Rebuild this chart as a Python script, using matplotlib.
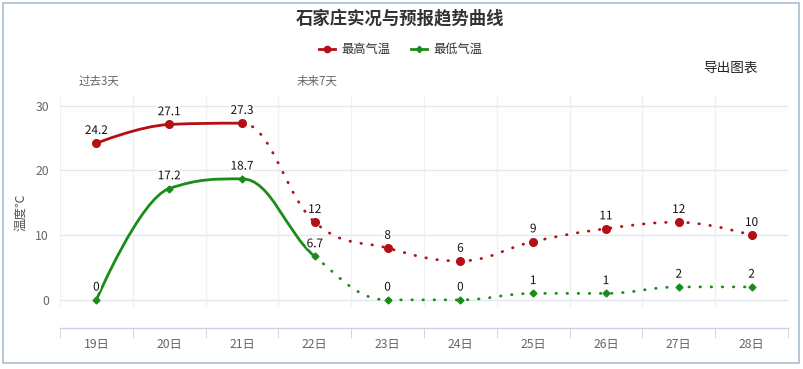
import matplotlib
matplotlib.use("Agg")
import matplotlib.pyplot as plt
from matplotlib.path import Path
from matplotlib.patches import PathPatch, Rectangle
import matplotlib.patheffects as pe
import numpy as np

plt.rcParams['font.family'] = ['Noto Sans CJK SC', 'DejaVu Sans']

days = ["19日", "20日", "21日", "22日", "23日", "24日", "25日", "26日", "27日", "28日"]
high_temp = [24.2, 27.1, 27.3, 12, 8, 6, 9, 11, 12, 10]
low_temp = [0, 17.2, 18.7, 6.7, 0, 0, 1, 1, 2, 2]
high_solid_until = 2   # last index drawn solid
low_solid_until = 3
yticks = [0, 10, 20, 30]

RED = "#b40f14"
GREEN = "#1a8c1a"


def spline_ctrl(xs, ys, smoothing=1.5):
    n = len(xs)
    left = [None] * n
    right = [None] * n
    denom = smoothing + 1
    for i in range(1, n - 1):
        px, py = xs[i], ys[i]
        lx, ly = xs[i - 1], ys[i - 1]
        nx, ny = xs[i + 1], ys[i + 1]
        lcx = (smoothing * px + lx) / denom
        lcy = (smoothing * py + ly) / denom
        rcx = (smoothing * px + nx) / denom
        rcy = (smoothing * py + ny) / denom
        if rcx != lcx:
            corr = ((rcy - lcy) * (rcx - px)) / (rcx - lcx) + py - rcy
            lcy += corr
            rcy += corr
        if lcy > ly and lcy > py:
            lcy = max(ly, py); rcy = 2 * py - lcy
        elif lcy < ly and lcy < py:
            lcy = min(ly, py); rcy = 2 * py - lcy
        if rcy > ny and rcy > py:
            rcy = max(ny, py); lcy = 2 * py - rcy
        elif rcy < ny and rcy < py:
            rcy = min(ny, py); lcy = 2 * py - rcy
        left[i] = (lcx, lcy)
        right[i] = (rcx, rcy)
    return left, right


def seg_path(xs, ys, i0, i1):
    left, right = spline_ctrl(xs, ys)
    verts = [(xs[i0], ys[i0])]
    codes = [Path.MOVETO]
    for i in range(i0 + 1, i1 + 1):
        c1 = right[i - 1] if right[i - 1] is not None else (xs[i - 1], ys[i - 1])
        c2 = left[i] if left[i] is not None else (xs[i], ys[i])
        verts += [c1, c2, (xs[i], ys[i])]
        codes += [Path.CURVE4] * 3
    return Path(verts, codes)


fig = plt.figure(figsize=(8.04, 3.69), dpi=100)
W, H = 804, 369
L, R, T, B = 60, 788, 96, 328
ax = fig.add_axes([L / W, 1 - B / H, (R - L) / W, (B - T) / H])
ymin, ymax = -4.35, 31.5
ax.set_xlim(-0.5, len(days) - 0.5)
ax.set_ylim(ymin, ymax)

# outer border
fig.patches.append(Rectangle((3 / W, 6 / H), 796 / W, 360 / H, transform=fig.transFigure,
                             fill=False, edgecolor="#a9bccf", linewidth=1.2))

for s in ["top", "right", "left"]:
    ax.spines[s].set_visible(False)
ax.spines["bottom"].set_color("#c8d2e0")
ax.spines["bottom"].set_linewidth(1)

for v in yticks:
    ax.axhline(v, color="#e2e6ee", linewidth=1, zorder=0)
edges = np.arange(len(days) + 1) - 0.5
ax.vlines(edges, -0.9, ymax, color="#eef0f4", linewidth=1, zorder=0)

ax.set_yticks(yticks)
ax.tick_params(axis="y", length=0, labelsize=8.8, labelcolor="#666666", pad=8)
ax.set_xticks(range(len(days)))
ax.set_xticklabels(days)
ax.set_xticks(edges, minor=True)
ax.tick_params(axis="x", which="major", length=0, labelsize=8.8, labelcolor="#666666", pad=7)
ax.tick_params(axis="x", which="minor", length=7.5, color="#c8d2e0", direction="out")
ax.set_ylabel("温度℃", fontsize=9, color="#555555", labelpad=6)

xs = list(range(len(days)))
dot = (0, (0.2, 3.8))
for vals, color, split, marker, ms in [(high_temp, RED, high_solid_until, "o", 5.5),
                                        (low_temp, GREEN, low_solid_until, "D", 3.5)]:
    p1 = seg_path(xs, vals, 0, split)
    ax.add_patch(PathPatch(p1, fill=False, edgecolor=color, linewidth=2, zorder=3,
                           capstyle="round", joinstyle="round"))
    p2 = seg_path(xs, vals, split, len(xs) - 1)
    ax.add_patch(PathPatch(p2, fill=False, edgecolor=color, linewidth=2, zorder=3,
                           linestyle=dot, capstyle="round"))
    ax.plot(xs, vals, linestyle="none", marker=marker, markersize=ms, color=color, zorder=4)
    for x, v in zip(xs, vals):
        ax.annotate(f"{v:g}", (x, v), xytext=(0, 4.5), textcoords="offset points",
                    ha="center", va="bottom", fontsize=8.5, color="#111111", zorder=5,
                    path_effects=[pe.withStroke(linewidth=2.5, foreground="white")])

# title and annotations
fig.text(400 / W, 1 - 18 / H, "石家庄实况与预报趋势曲线", ha="center", va="center",
         fontsize=12.5, fontweight="bold", color="#333333")

# legend
ly = 1 - 49 / H
for mx, color, marker, ms, label in [(327, RED, "o", 4.5, "最高气温"),
                                      (419, GREEN, "D", 3.2, "最低气温")]:
    fig.add_artist(plt.Line2D([(mx - 8) / W, (mx + 8) / W], [ly, ly], color=color,
                              linewidth=2, transform=fig.transFigure))
    fig.add_artist(plt.Line2D([mx / W], [ly], marker=marker, markersize=ms, color=color,
                              transform=fig.transFigure))
    fig.text((mx + 14) / W, ly, label, ha="left", va="center", fontsize=8.8, color="#333333")

fig.text(79 / W, 1 - 81 / H, "过去3天", ha="left", va="center", fontsize=8.3, color="#666666")
fig.text(297 / W, 1 - 81 / H, "未来7天", ha="left", va="center", fontsize=8.3, color="#666666")
fig.text(703 / W, 1 - 68 / H, "导出图表", ha="left", va="center", fontsize=9.8, color="#222222")

fig.savefig("out.png", dpi=100, facecolor="white")
